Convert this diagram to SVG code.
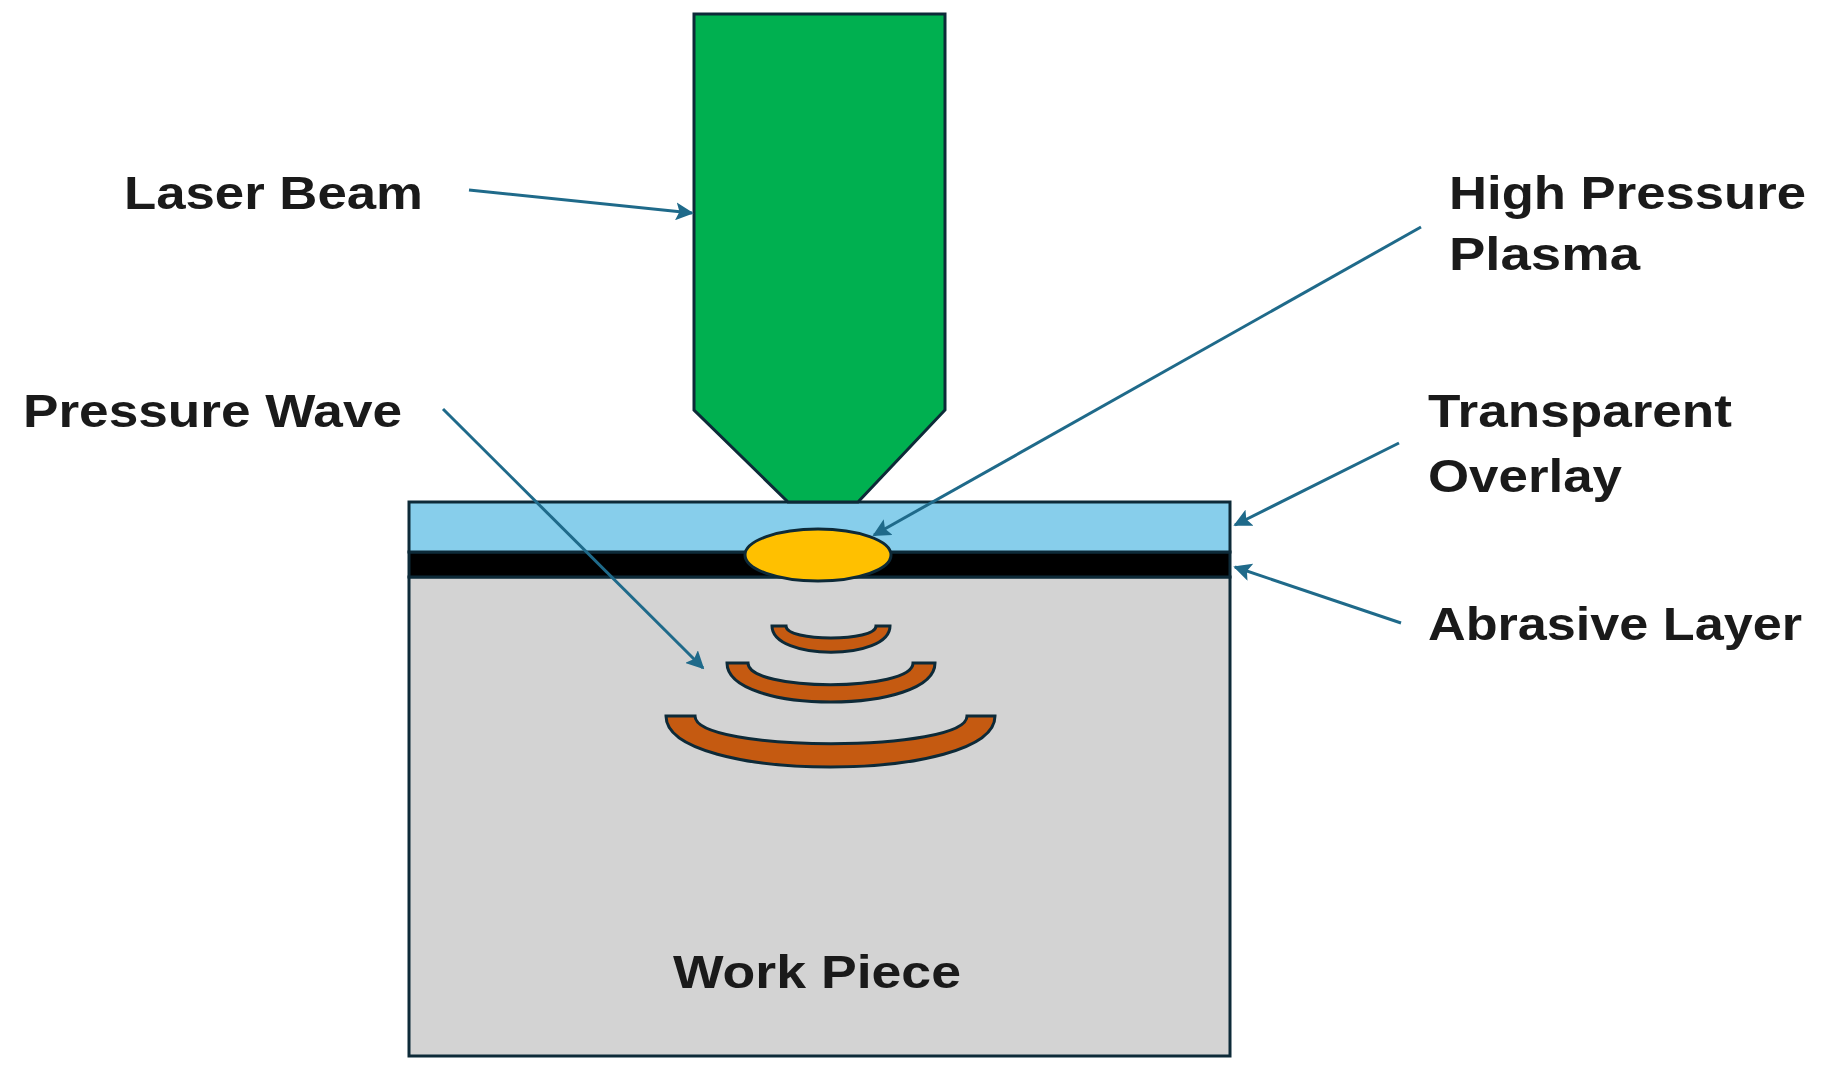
<svg xmlns="http://www.w3.org/2000/svg" width="1823" height="1070" viewBox="0 0 1823 1070">
<style>
.t{font-family:"Liberation Sans",Arial,sans-serif;font-weight:bold;font-size:46px;fill:#1a1a1a}
.o{stroke:#0d2a38;stroke-width:3}
.c{stroke:#1f6a8a;stroke-width:3;fill:none;marker-end:url(#a)}
</style>
<defs><marker id="a" viewBox="0 0 10 10" refX="9" refY="5" markerWidth="6" markerHeight="6" orient="auto" markerUnits="strokeWidth"><path d="M0,0L10,5L0,10L2,5z" fill="#1f6a8a"/></marker></defs>
<rect width="1823" height="1070" fill="#fff"/>
<g id="workpiece"><rect class="o" x="409" y="577" width="821" height="479" fill="#d3d3d3"/></g>
<g id="abrasive"><rect class="o" x="409" y="552" width="821" height="25" fill="#000"/></g>
<g id="overlay"><rect class="o" x="409" y="502" width="821" height="50" fill="#87ceeb"/></g>
<g id="beam"><path class="o" d="M694,14H945V410L858,502H788L694,410Z" fill="#00b050"/></g>
<g id="plasma"><ellipse class="o" cx="818" cy="555" rx="73" ry="26" fill="#ffc000"/></g>
<g id="waves" fill="#c55a11" class="o">
<path class="o" d="M772,626H786C786,642 876,642 876,626H890C890,661 772,661 772,626Z"/>
<path class="o" d="M727,663H748C748,692 913,692 913,663H935C935,715 727,715 727,663Z"/>
<path class="o" d="M666,716H695C695,753 967,753 967,716H995C995,784 666,784 666,716Z"/>
</g>
<g id="connectors">
<path class="c" d="M469,190L692,213"/>
<path class="c" d="M1421,227L874,535"/>
<path class="c" d="M443,409L703,668"/>
<path class="c" d="M1399,443L1235,525"/>
<path class="c" d="M1401,623L1235,567"/>
</g>
<g id="labels">
<text class="t" x="124" y="209" textLength="299" lengthAdjust="spacingAndGlyphs">Laser Beam</text>
<text class="t" x="1449" y="209" textLength="357" lengthAdjust="spacingAndGlyphs">High Pressure</text>
<text class="t" x="1449" y="270" textLength="191" lengthAdjust="spacingAndGlyphs">Plasma</text>
<text class="t" x="23" y="427" textLength="379" lengthAdjust="spacingAndGlyphs">Pressure Wave</text>
<text class="t" x="1428" y="427" textLength="304" lengthAdjust="spacingAndGlyphs">Transparent</text>
<text class="t" x="1428" y="492" textLength="194" lengthAdjust="spacingAndGlyphs">Overlay</text>
<text class="t" x="1428" y="640" textLength="374" lengthAdjust="spacingAndGlyphs">Abrasive Layer</text>
<text class="t" x="673" y="988" textLength="288" lengthAdjust="spacingAndGlyphs">Work Piece</text>
</g>
</svg>
